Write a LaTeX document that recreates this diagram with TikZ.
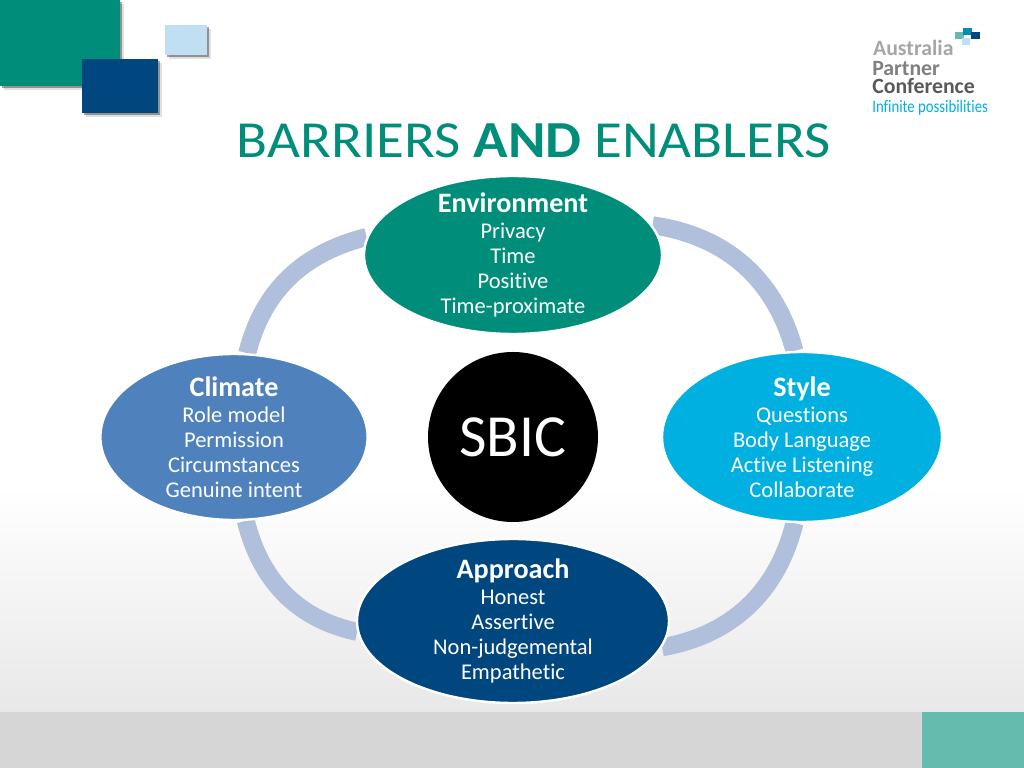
\documentclass[tikz,border=0pt]{standalone}
\usepackage{fontspec}
\setmainfont[Ligatures=NoCommon]{Carlito}
\newfontfamily\titlefont[Ligatures=NoCommon,FakeStretch=1.095]{Carlito}
\newfontfamily\tagfont[Ligatures=NoCommon,FakeStretch=0.84]{Carlito}
\usepackage{xcolor}
\usetikzlibrary{shapes,shapes.geometric}
\usetikzlibrary{backgrounds,shadows}
\definecolor{aputeal}{HTML}{008E7A}
\definecolor{apublue}{HTML}{4F81BD}
\definecolor{apucyan}{HTML}{00B0E0}
\definecolor{apunavy}{HTML}{00467F}
\definecolor{apuring}{HTML}{B0BFDB}
\definecolor{apupale}{HTML}{C0DFF3}
\newcommand{\blobhead}[1]{{\fontsize{20}{20}\selectfont\bfseries #1}\\[1pt]}
\tikzset{
  blob/.style={ellipse, draw=white, line width=0.06cm, inner xsep=-0.6cm, inner ysep=-0.8cm, text=white, align=center,
    font=\fontsize{16}{17.8}\selectfont},
  ringarc/.style={apuring, line width=0.45cm},
  tile/.style={drop shadow={shadow xshift=0.09cm, shadow yshift=-0.09cm, fill=black, opacity=0.12},
    drop shadow={shadow xshift=0.05cm, shadow yshift=-0.05cm, fill=black, opacity=0.35}},
  logotext/.style={anchor=base west, inner sep=0pt, font=\fontsize{15.5}{16}\selectfont\bfseries},
}
\begin{document}
\begin{tikzpicture}
\useasboundingbox (0,0) rectangle (25.6,19.2);
% corner tiles
\fill[aputeal, tile] (0,17.05) rectangle (3,19.2);
\fill[apunavy, tile] (2.05,16.37) rectangle (3.95,17.72);
\fill[apupale, tile] (4.13,17.82) rectangle (5.18,18.57);
% logo
\foreach \x/\y/\c in {23.88/18.22/aputeal!60, 24.08/18.33/apucyan!80!black, 24.28/18.22/apunavy, 24.05/18.07/apupale}
  \fill[\c] (\x,\y) rectangle +(0.21,0.17);
\node[logotext, text=black!35] (australia) at (21.82,17.8) {Australia};
\node[logotext, text=black!50] (partner) at (21.8,17.32) {Partner};
\node[logotext, text=black!65] (conference) at (21.8,16.85) {Conference};
\node[logotext, text=apucyan, font=\fontsize{12.5}{13}\tagfont] (infinite) at (21.8,16.38) {Infinite possibilities};
% title
\node[anchor=base, inner sep=0pt, text=aputeal, font=\fontsize{37}{40}\titlefont] (title) at (13.35,15.25)
  {BARRIERS \textbf{AND} ENABLERS};
% the four ellipses
\node[blob, fill=aputeal, minimum width=7.45cm, minimum height=3.95cm] (environment) at (12.825,12.825)
  {\blobhead{Environment}Privacy\\Time\\Positive\\Time-proximate};
\node[blob, fill=apublue, minimum width=6.68cm, minimum height=4.15cm] (climate) at (5.85,8.275)
  {\blobhead{Climate}Role model\\Permission\\Circumstances\\Genuine intent};
\node[blob, fill=apucyan, minimum width=7cm, minimum height=4.25cm] (style) at (20.05,8.275)
  {\blobhead{Style}Questions\\Body Language\\Active Listening\\Collaborate};
\node[blob, fill=apunavy, minimum width=7.8cm, minimum height=4.1cm] (approach) at (12.825,3.675)
  {\blobhead{Approach}Honest\\Assertive\\Non-judgemental\\Empathetic};
\node[circle, fill=black, text=white, minimum size=4.25cm, inner sep=0pt, font=\fontsize{42.5}{44}\selectfont] (sbic) at (12.825,8.275) {SBIC};
\begin{scope}[on background layer]
% page
\fill[white] (0,0) rectangle (25.6,19.2);
\shade[top color=white, bottom color=black!9] (0,1.4) rectangle (25.6,7);
\fill[black!16] (0,0) rectangle (25.6,1.4);
\fill[aputeal!60] (23.05,0) rectangle (25.6,1.4);
% ring
\draw[ringarc] (climate.81) to[out=76, in=194] (environment.173);
\draw[ringarc] (environment.12) to[out=-8, in=105] (style.95);
\draw[ringarc] (style.265) to[out=-104, in=10] (approach.-10);
\draw[ringarc] (climate.-82) to[out=-76, in=168] (approach.184);
\end{scope}
\end{tikzpicture}
\end{document}
